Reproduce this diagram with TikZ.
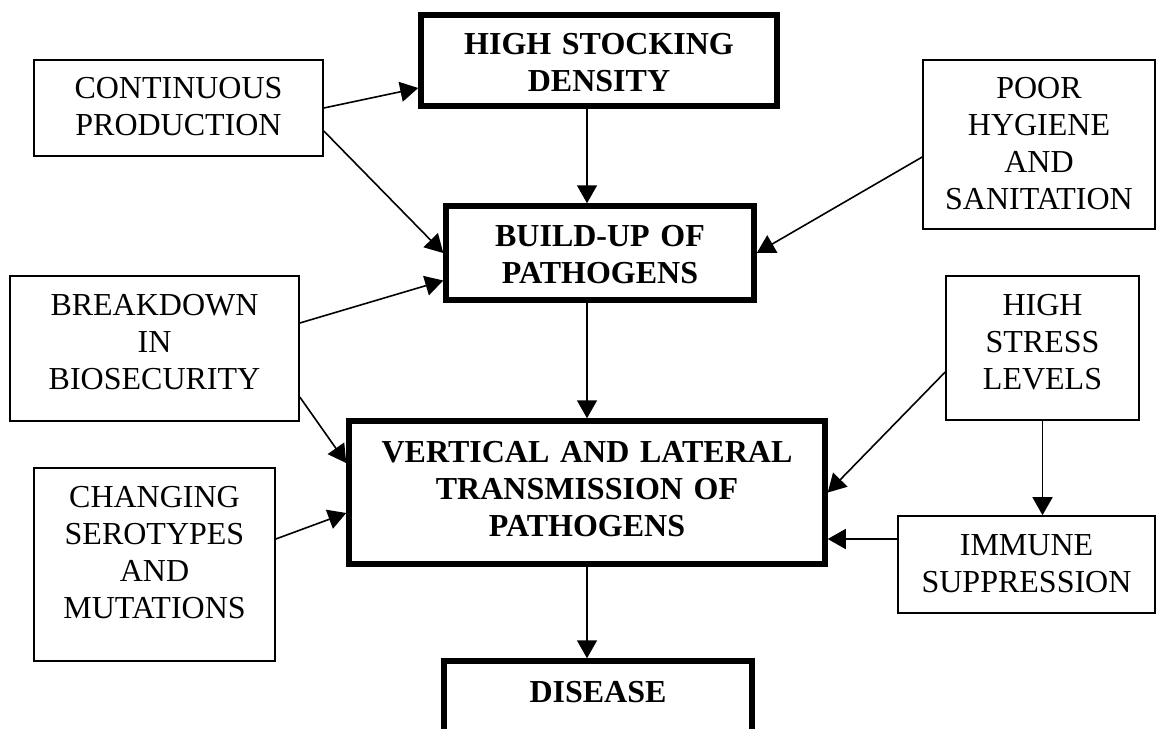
\documentclass[tikz,border=0pt]{standalone}
\usepackage{fontspec}
\setmainfont{Liberation Serif}
\usetikzlibrary{arrows.meta}

\begin{document}
\begin{tikzpicture}[x=1pt,y=-1pt]
    \tikzset{cause/.style = {draw, line width=1.6pt, inner sep=0pt, align=center, font=\fontsize{32}{37}\selectfont}}
    \tikzset{stage/.style = {cause, line width=5.5pt, font=\fontsize{32}{37}\selectfont\bfseries}}
    \tikzset{edge/.style = {-{Triangle[length=18pt,width=20pt]}, line width=1.6pt}}
    \clip (0,0) rectangle (1158,728);
    % vertices
    \node[stage, text width=356pt, text height=39pt, text depth=52pt] (hsd) at (599,60.5) {HIGH STOCKING\\DENSITY};
    \node[stage, text width=308pt, text height=40pt, text depth=54pt] (build) at (600,253) {BUILD-UP OF\\PATHOGENS};
    \node[stage, text width=476pt, text height=41pt, text depth=102pt] (vert) at (587,492.5) {VERTICAL AND LATERAL\\TRANSMISSION OF\\PATHOGENS};
    \node[stage, text width=308pt, text height=41pt, text depth=58pt] (disease) at (598,710.5) {DISEASE};

    \node[cause, text width=289pt, text height=38pt, text depth=58pt] (cont) at (178.5,108) {CONTINUOUS\\PRODUCTION};
    \node[cause, text width=289pt, text height=39pt, text depth=106pt] (brk) at (154.5,348.5) {BREAKDOWN\\IN\\BIOSECURITY};
    \node[cause, text width=241pt, text height=39pt, text depth=154pt] (chang) at (154.5,564.5) {CHANGING\\SEROTYPES\\AND\\MUTATIONS};
    \node[cause, text width=232pt, text height=38pt, text depth=131pt] (poor) at (1039,144.5) {POOR\\HYGIENE\\AND\\SANITATION};
    \node[cause, text width=193pt, text height=39pt, text depth=105pt] (stress) at (1042.5,348) {HIGH\\STRESS\\LEVELS};
    \node[cause, text width=257pt, text height=39pt, text depth=58pt] (immune) at (1026.5,564.5) {IMMUNE\\SUPPRESSION};
    \coordinate (axis) at (587,0);
    %edges
    \draw[edge] (cont.east) -- ([yshift=-27.5pt]hsd.west);
    \draw[edge] ([yshift=-23pt]cont.east) -- (build.west);
    \draw[edge] (hsd.south -| axis) -- (build.north -| axis);
    \draw[edge] ([yshift=-12.5pt]poor.west) -- (build.east);
    \draw[edge] ([yshift=25.5pt]brk.east) -- ([yshift=-27.5pt]build.west);
    \draw[edge] ([yshift=-48.5pt]brk.east) -- ([yshift=29.5pt]vert.west);
    \draw[edge] ([yshift=25.5pt]chang.east) -- ([yshift=-20.5pt]vert.west);
    \draw[edge] (build.south -| axis) -- (vert.north -| axis);
    \draw[edge] ([yshift=-24pt]stress.west) -- (vert.east);
    \draw[edge] (stress.south) -- (stress.south |- immune.north);
    \draw[edge] ([yshift=25.5pt]immune.west) coordinate (imm) -- (vert.east |- imm);
    \draw[edge] (vert.south -| axis) -- (disease.north -| axis);
\end{tikzpicture}
\end{document}
